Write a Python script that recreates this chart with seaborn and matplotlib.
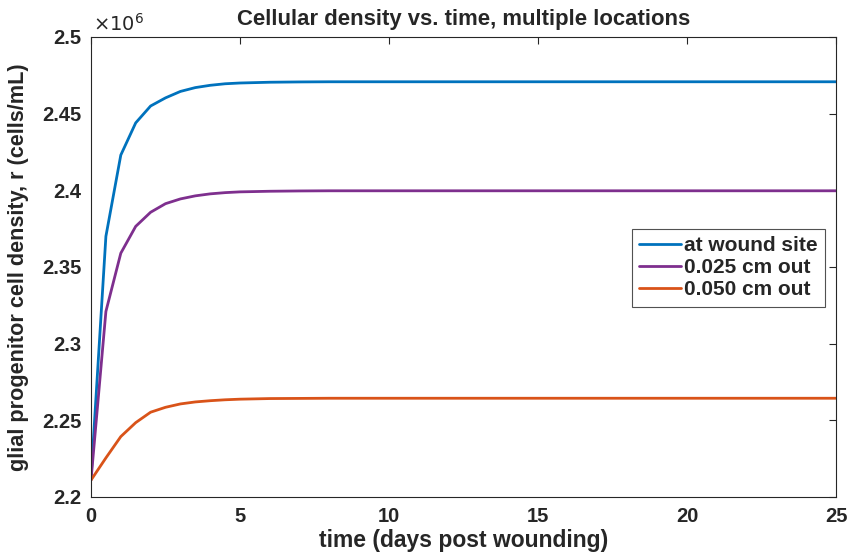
import matplotlib
matplotlib.use("Agg")
import matplotlib.pyplot as plt
import matplotlib.ticker as mticker
import seaborn as sns
import pandas as pd

# time points (days post wounding)
time_days = [0, 0.5, 1, 1.5, 2, 2.5, 3, 3.5, 4, 4.5, 5, 6, 7, 8, 10, 15, 20, 25]

# cell density (cells/mL)
at_wound_site = [2.212e6, 2.370e6, 2.423e6, 2.444e6, 2.455e6, 2.4603e6, 2.4645e6, 2.467e6,
                 2.4685e6, 2.4695e6, 2.4700e6, 2.4705e6, 2.4707e6, 2.4708e6, 2.4708e6,
                 2.4708e6, 2.4708e6, 2.4708e6]
out_0025 = [2.211e6, 2.321e6, 2.359e6, 2.3765e6, 2.3857e6, 2.3913e6, 2.3944e6, 2.3964e6,
            2.3977e6, 2.3985e6, 2.3990e6, 2.3994e6, 2.3996e6, 2.3997e6, 2.3997e6,
            2.3997e6, 2.3997e6, 2.3997e6]
out_0050 = [2.211e6, 2.2255e6, 2.2394e6, 2.2485e6, 2.2553e6, 2.2585e6, 2.2607e6, 2.2620e6,
            2.2628e6, 2.2634e6, 2.2638e6, 2.2642e6, 2.2643e6, 2.2644e6, 2.2644e6,
            2.2644e6, 2.2644e6, 2.2644e6]

series_names = ["at wound site", "0.025 cm out", "0.050 cm out"]
series_colors = ["#0072BD", "#7E2F8E", "#D95319"]

x_ticks = [0, 5, 10, 15, 20, 25]
y_ticks = [2.2e6, 2.25e6, 2.3e6, 2.35e6, 2.4e6, 2.45e6, 2.5e6]

rows = []
for name, vals in zip(series_names, [at_wound_site, out_0025, out_0050]):
    for t, v in zip(time_days, vals):
        rows.append({"time": t, "density": v, "series": name})
df = pd.DataFrame(rows)

sns.set_theme(style="white")
plt.rcParams["font.family"] = ["Liberation Sans", "DejaVu Sans"]

fig = plt.figure(figsize=(8.48, 5.52), dpi=100)
ax = fig.add_axes([91 / 848, 1 - 497 / 552, 745 / 848, 460 / 552])

sns.lineplot(data=df, x="time", y="density", hue="series", hue_order=series_names,
             palette=series_colors, linewidth=2.0, ax=ax, legend=True)

ax.set_xlim(0, 25)
ax.set_ylim(2.2e6, 2.5e6)
ax.set_xticks(x_ticks)
ax.set_yticks(y_ticks)
ax.yaxis.set_major_formatter(mticker.FuncFormatter(lambda v, p: f"{v / 1e6:g}"))
ax.tick_params(direction="in", length=5, width=0.8, top=True, right=True,
               labelsize=14.5, colors="#262626")
ax.tick_params(axis="x", pad=7)
ax.tick_params(axis="y", pad=7)
for lab in ax.get_xticklabels() + ax.get_yticklabels():
    lab.set_fontweight("bold")
for sp in ax.spines.values():
    sp.set_color("#262626")
    sp.set_linewidth(0.8)

ax.set_xlabel("time (days post wounding)", fontsize=16.5, fontweight="bold", labelpad=2)
ax.set_ylabel("glial progenitor cell density, r (cells/mL)", fontsize=15.6,
              fontweight="bold", labelpad=9)
ax.set_title("Cellular density vs. time, multiple locations", fontsize=15.9,
             fontweight="bold", pad=9)
ax.text(0.003, 1.005, r"$\times10^6$", transform=ax.transAxes, fontsize=14,
        ha="left", va="bottom", color="#262626")

leg = ax.legend(loc="upper right", bbox_to_anchor=(0.985, 0.583), fontsize=15,
                frameon=True, fancybox=False, handlelength=2.0, handletextpad=0.15,
                borderpad=0.35, labelspacing=0.15, borderaxespad=0)
leg.get_frame().set_edgecolor("#262626")
leg.get_frame().set_linewidth(0.8)
for t in leg.get_texts():
    t.set_fontweight("bold")

fig.savefig("out.png", dpi=100)
